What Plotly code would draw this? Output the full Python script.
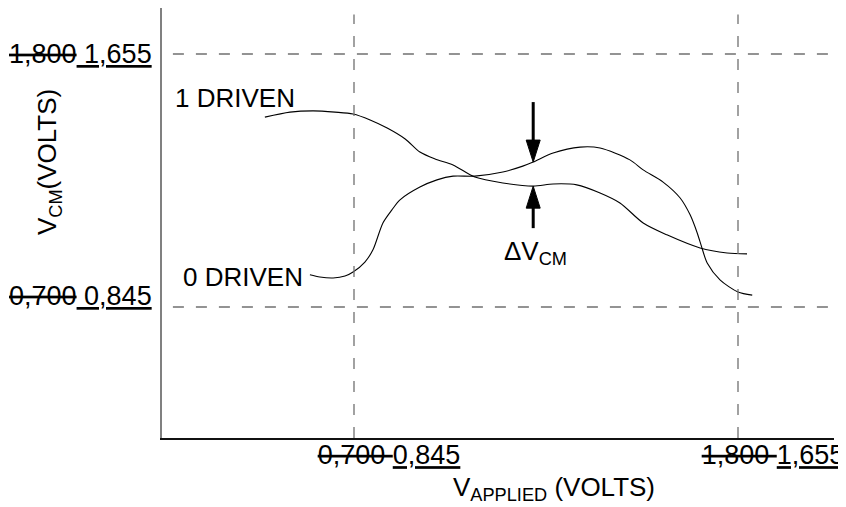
import numpy as np
import plotly.graph_objects as go

# ---- data (volts) ----
one_x = [0.657, 0.710, 0.759, 0.805, 0.843, 0.879, 0.915, 0.953, 0.984, 1.016, 1.054,
         1.100, 1.159, 1.223, 1.265, 1.315, 1.364, 1.406, 1.455, 1.505, 1.575, 1.632, 1.674]
one_y = [1.453, 1.469, 1.473, 1.469, 1.463, 1.444, 1.418, 1.383, 1.341, 1.319, 1.300,
         1.261, 1.242, 1.232, 1.239, 1.236, 1.210, 1.178, 1.114, 1.076, 1.034, 1.018, 1.015]

zero_x = [0.752, 0.773, 0.801, 0.826, 0.843, 0.868, 0.885, 0.906, 0.925, 0.942, 0.984,
          1.020, 1.054, 1.100, 1.159, 1.201, 1.223, 1.265, 1.322, 1.364, 1.427, 1.455,
          1.497, 1.533, 1.554, 1.569, 1.579, 1.590, 1.617, 1.655, 1.685]
zero_y = [0.948, 0.941, 0.938, 0.944, 0.957, 0.989, 1.028, 1.114, 1.156, 1.188, 1.229,
          1.252, 1.264, 1.264, 1.277, 1.296, 1.309, 1.338, 1.357, 1.354, 1.316, 1.284,
          1.245, 1.194, 1.140, 1.082, 1.034, 0.986, 0.932, 0.893, 0.883]

ref_vals = [0.845, 1.655]
x_ticktext = ["<s>0,700 </s><u>0,845</u>", "<s>1,800 </s><u>1,655</u>"]
y_ticktext = ["<s>0,700</s><u> 0,845</u>", "<s>1,800</s><u> 1,655</u>"]
arrow_x = 1.223

X_RANGE = [0.440, 1.8575]
Y_RANGE = [0.4256, 1.8023]

FONT = "Liberation Sans, Arial, sans-serif"
FS = 26
TICK_FS = 27

fig = go.Figure()
for xs, ys in [(one_x, one_y), (zero_x, zero_y)]:
    fig.add_trace(go.Scatter(x=xs, y=ys, mode="lines",
                             line=dict(color="black", width=1.1, shape="spline", smoothing=0.8),
                             hoverinfo="skip", showlegend=False))

shapes = []
# dashed reference lines
for v in ref_vals:
    shapes.append(dict(type="line", xref="x", yref="y", x0=0.463, x1=X_RANGE[1], y0=v, y1=v,
                       line=dict(color="#707070", width=1.3, dash="11px,12px")))
    shapes.append(dict(type="line", xref="x", yref="paper", x0=v, x1=v, y0=0, y1=0.985,
                       line=dict(color="#707070", width=1.3, dash="11px,12px")))

# arrows for delta V_CM
top_y = float(np.interp(arrow_x, zero_x, zero_y))
bot_y = float(np.interp(arrow_x, one_x, one_y))
shapes += [
    dict(type="path", xref="x", yref="y", xsizemode="pixel", ysizemode="pixel",
         xanchor=arrow_x, yanchor=top_y, path="M0,0 L-7,22 L7,22 Z",
         fillcolor="black", line=dict(color="black", width=1)),
    dict(type="line", xref="x", yref="y", xsizemode="pixel", ysizemode="pixel",
         xanchor=arrow_x, yanchor=top_y, x0=0, x1=0, y0=20, y1=60,
         line=dict(color="black", width=3)),
    dict(type="path", xref="x", yref="y", xsizemode="pixel", ysizemode="pixel",
         xanchor=arrow_x, yanchor=bot_y, path="M0,0 L-7,-22 L7,-22 Z",
         fillcolor="black", line=dict(color="black", width=1)),
    dict(type="line", xref="x", yref="y", xsizemode="pixel", ysizemode="pixel",
         xanchor=arrow_x, yanchor=bot_y, x0=0, x1=0, y0=-20, y1=-42,
         line=dict(color="black", width=3)),
]

font = dict(family=FONT, size=FS, color="black")
tfont = dict(family=FONT, size=TICK_FS, color="black")
annotations = [
    dict(text="1 DRIVEN", x=0.463, y=1.514, xref="x", yref="y", xanchor="left",
         yanchor="middle", showarrow=False, font=font),
    dict(text="0 DRIVEN", x=0.742, y=0.941, xref="x", yref="y", xanchor="right",
         yanchor="middle", showarrow=False, font=font),
    dict(text="\u0394V<sub>CM</sub>", x=1.227, y=1.021, xref="x", yref="y", xanchor="center",
         yanchor="middle", showarrow=False, font=font),
    dict(text="V<sub>APPLIED</sub> (VOLTS)", x=0.583, y=-0.118, xref="paper", yref="paper",
         xanchor="center", yanchor="middle", showarrow=False, font=font),
    dict(text="V<sub>CM</sub>(VOLTS)", x=-0.168, y=0.642, xref="paper", yref="paper",
         xanchor="center", yanchor="middle", textangle=-90, showarrow=False, font=font),
]
for v, t, ys in zip(ref_vals, y_ticktext, [11, 0]):
    annotations.append(dict(text=t, x=0, y=v, xref="paper", yref="y", xanchor="right",
                            yanchor="middle", xshift=-8, yshift=ys, showarrow=False, font=tfont))

fig.update_layout(
    width=838, height=499,
    margin=dict(l=154, r=12, t=0, b=69),
    paper_bgcolor="white", plot_bgcolor="white",
    font=font,
    shapes=shapes, annotations=annotations,
    xaxis=dict(range=X_RANGE, showgrid=False, zeroline=False, showline=True,
               linecolor="#111111", linewidth=1.5, ticks="",
               tickvals=ref_vals, ticktext=x_ticktext, ticklabelshift=35,
               ticklabelstandoff=-8, tickfont=tfont),
    yaxis=dict(range=Y_RANGE, showgrid=False, zeroline=False, showline=True,
               linecolor="#808080", linewidth=1.5, ticks="", showticklabels=False),
)

fig.write_html("out.html")
